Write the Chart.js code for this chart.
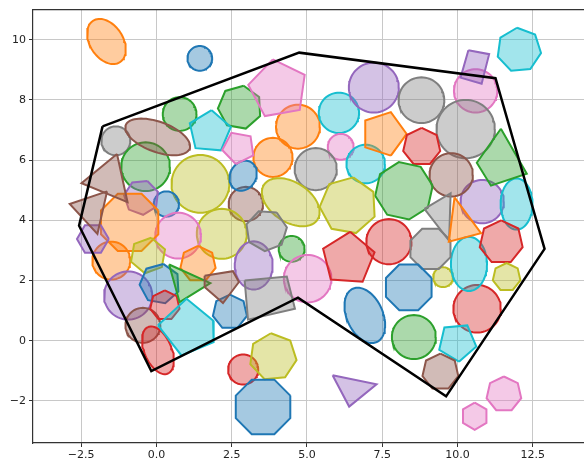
<!DOCTYPE html>
<html>
<head>
<meta charset="utf-8">
<script src="https://cdn.jsdelivr.net/npm/chart.js@4/dist/chart.umd.min.js"></script>
<style>
  html, body { margin: 0; padding: 0; background: #fff; }
</style>
</head>
<body>
<canvas id="chart" width="584" height="465"></canvas>
<script>
// tick labels
const xTicks = [-2.5, 0, 2.5, 5, 7.5, 10, 12.5];
const yTicks = [-2, 0, 2, 4, 6, 8, 10];

// tab10 colours by name
const palette = {
  blue: '31,119,180', orange: '255,127,14', green: '44,160,44', red: '214,39,40',
  purple: '148,103,189', brown: '140,86,75', pink: '227,119,194', gray: '127,127,127',
  olive: '188,189,34', cyan: '23,190,207'
};

// outline around the cluster
const hull = [[-1.79, 7.12], [4.74, 9.57], [11.26, 8.72], [12.89, 3.05], [9.62, -1.85],
  [4.70, 1.43], [-0.17, -1.01], [-2.57, 3.82]];

// circles: cx, cy, r, colour
const circles = [
  [1.44, 9.38, 0.41, 'blue'], [10.6, 8.3, 0.72, 'pink'], [2.88, -0.96, 0.5, 'red'],
  [0.77, 7.53, 0.56, 'green'], [-1.35, 6.64, 0.48, 'gray'], [4.7, 7.11, 0.73, 'orange'],
  [6.06, 7.57, 0.67, 'cyan'], [7.22, 8.41, 0.83, 'purple'], [6.12, 6.44, 0.43, 'pink'],
  [8.80, 7.99, 0.76, 'gray'], [10.27, 7.03, 0.97, 'gray'], [10.82, 4.62, 0.72, 'purple'],
  [9.79, 5.51, 0.72, 'brown'], [9.52, 2.11, 0.33, 'olive'], [7.72, 3.29, 0.75, 'red'],
  [8.55, 0.12, 0.73, 'green'], [10.65, 1.06, 0.79, 'red'], [5.29, 5.70, 0.7, 'gray'],
  [6.95, 5.87, 0.64, 'cyan'], [3.87, 6.09, 0.65, 'orange'], [2.97, 4.54, 0.57, 'brown'],
  [1.46, 5.21, 0.96, 'olive'], [2.17, 3.55, 0.83, 'olive'], [4.49, 3.05, 0.43, 'green'],
  [5.02, 2.06, 0.79, 'pink'], [-0.36, 5.78, 0.81, 'green'], [0.33, 4.54, 0.42, 'blue'],
  [0.72, 3.49, 0.76, 'pink'], [-1.5, 2.66, 0.63, 'orange'], [-0.94, 1.50, 0.8, 'purple'],
  [-0.45, 0.51, 0.58, 'brown']
];

// ellipses: cx, cy, semi-major, semi-minor, angle (deg), colour
const ellipses = [
  [-1.66, 9.94, 0.82, 0.55, -57, 'orange'], [0.04, 6.77, 1.13, 0.5, -20, 'brown'],
  [2.88, 5.48, 0.52, 0.43, 60, 'blue'], [4.46, 4.60, 1.06, 0.66, -33, 'olive'],
  [3.23, 2.50, 0.8, 0.63, 90, 'purple'], [11.96, 4.54, 0.85, 0.53, 90, 'cyan'],
  [10.38, 2.55, 0.9, 0.6, 90, 'cyan'], [6.92, 0.84, 0.97, 0.6, 114, 'blue'],
  [0.05, -0.32, 0.84, 0.45, 113, 'red']
];

// regular polygons: cx, cy, r, sides, first vertex angle (deg), colour
const regular = [
  [12.04, 9.66, 0.74, 7, 95, 'cyan'], [2.77, 7.75, 0.73, 7, 80, 'green'],
  [4.04, 8.36, 1.0, 5, 100, 'pink'], [1.77, 6.94, 0.72, 5, 85, 'cyan'],
  [7.55, 6.87, 0.76, 5, -72, 'orange'], [8.81, 6.44, 0.63, 7, 90, 'red'],
  [8.22, 4.98, 0.97, 8, 10, 'green'], [11.45, 3.27, 0.73, 7, 90, 'red'],
  [11.63, 2.11, 0.47, 7, 90, 'olive'], [9.10, 3.05, 0.72, 8, 22.5, 'gray'],
  [8.38, 1.77, 0.82, 8, 22.5, 'blue'], [9.99, -0.05, 0.65, 5, -85, 'cyan'],
  [9.43, -1.04, 0.61, 7, 90, 'brown'], [3.87, -0.54, 0.79, 7, 95, 'olive'],
  [3.54, -2.2, 0.98, 8, 22.5, 'blue'], [11.54, -1.78, 0.59, 7, 90, 'pink'],
  [10.57, -2.51, 0.45, 6, 90, 'pink'], [6.37, 4.49, 0.95, 7, 80, 'olive'],
  [3.65, 3.66, 0.69, 7, 60, 'gray'], [6.37, 2.72, 0.9, 5, 86, 'red'],
  [2.73, 6.41, 0.55, 5, -100, 'pink'], [2.44, 0.95, 0.58, 7, 90, 'blue'],
  [-0.5, 4.76, 0.58, 7, 70, 'purple'], [-0.89, 3.93, 1.03, 8, 22.5, 'orange'],
  [-2.11, 3.38, 0.53, 6, 0, 'purple'], [-0.28, 2.83, 0.6, 6, 80, 'olive'],
  [1.38, 2.55, 0.6, 7, 90, 'orange'], [0.11, 1.89, 0.67, 7, 80, 'blue'],
  [0.28, 1.17, 0.5, 7, 90, 'red']
];

// free polygons: colour, vertices
const freeShapes = [
  ['brown', [[-1.31, 6.20], [-2.49, 5.23], [-0.96, 4.60]]],
  ['brown', [[-1.64, 4.96], [-2.88, 4.54], [-1.96, 3.55]]],
  ['gray', [[8.90, 4.38], [9.77, 4.90], [9.72, 3.32]]],
  ['orange', [[9.90, 4.76], [10.78, 3.57], [9.71, 3.29]]],
  ['purple', [[5.85, -1.15], [7.31, -1.45], [6.40, -2.19]]],
  ['green', [[0.42, 2.53], [1.79, 1.91], [0.77, 1.28]]],
  ['purple', [[10.36, 9.65], [11.05, 9.52], [10.8, 8.54], [10.1, 8.74]]],
  ['gray', [[2.93, 2.00], [4.33, 2.13], [4.60, 1.06], [3.04, 0.70]]],
  ['green', [[11.44, 7.04], [12.30, 5.55], [11.11, 5.15], [10.64, 5.91]]],
  ['cyan', [[0.05, 0.51], [1.0, 1.39], [1.88, 0.67], [1.90, -0.05], [0.83, -0.49]]],
  ['brown', [[1.60, 2.16], [2.54, 2.31], [2.74, 1.95], [2.21, 1.25], [1.60, 1.78]]]
];

function closed(pts) {
  const out = pts.map(p => ({ x: p[0], y: p[1] }));
  out.push({ ...out[0] });
  return out;
}

function ellipsePts(cx, cy, a, b, ang) {
  const th = ang * Math.PI / 180, pts = [];
  for (let i = 0; i < 72; i++) {
    const t = i / 72 * 2 * Math.PI;
    pts.push([cx + a * Math.cos(t) * Math.cos(th) - b * Math.sin(t) * Math.sin(th),
              cy + a * Math.cos(t) * Math.sin(th) + b * Math.sin(t) * Math.cos(th)]);
  }
  return pts;
}

function polyPts(cx, cy, r, n, rot) {
  const pts = [];
  for (let k = 0; k < n; k++) {
    const t = (rot + 360 * k / n) * Math.PI / 180;
    pts.push([cx + r * Math.cos(t), cy + r * Math.sin(t)]);
  }
  return pts;
}

const shapes = [];
circles.forEach(c => shapes.push([c[3], ellipsePts(c[0], c[1], c[2], c[2], 0)]));
ellipses.forEach(e => shapes.push([e[5], ellipsePts(e[0], e[1], e[2], e[3], e[4])]));
regular.forEach(p => shapes.push([p[5], polyPts(p[0], p[1], p[2], p[3], p[4])]));
freeShapes.forEach(f => shapes.push([f[0], f[1]]));

const datasets = shapes.map((s, i) => ({
  data: closed(s[1]),
  showLine: true,
  fill: 'shape',
  backgroundColor: 'rgba(' + palette[s[0]] + ',0.4)',
  borderColor: 'rgb(' + palette[s[0]] + ')',
  borderWidth: 2,
  pointRadius: 0,
  tension: 0,
  order: shapes.length - i + 1
}));

datasets.push({
  data: closed(hull),
  showLine: true,
  fill: false,
  borderColor: '#000',
  borderWidth: 2.5,
  pointRadius: 0,
  tension: 0,
  order: 0
});

const spines = {
  id: 'spines',
  afterDraw(chart) {
    const { ctx, chartArea: a } = chart;
    ctx.save();
    ctx.strokeStyle = '#333';
    ctx.lineWidth = 1.2;
    ctx.beginPath();
    ctx.moveTo(a.left, a.top);
    ctx.lineTo(a.right, a.top);
    ctx.stroke();
    ctx.restore();
  }
};

const fmt = v => String(v).replace('-', '\u2212');

new Chart(document.getElementById('chart'), {
  type: 'scatter',
  data: { datasets },
  options: {
    responsive: false,
    animation: false,
    events: [],
    layout: { padding: { top: 8, right: 0, left: 0, bottom: 0 } },
    plugins: { legend: { display: false }, tooltip: { enabled: false } },
    scales: {
      x: {
        type: 'linear', min: -4.1, max: 14.2,
        afterBuildTicks: s => { s.ticks = xTicks.map(v => ({ value: v })); },
        afterFit: s => { s.height = 22; },
        grid: { color: '#c8c8c8', lineWidth: 1, tickLength: 4, tickColor: '#333' },
        border: { color: '#333', width: 1.2 },
        ticks: {
          font: { family: 'DejaVu Sans', size: 11 }, color: '#222', padding: 2,
          maxRotation: 0, callback: v => fmt(v.toFixed(1))
        }
      },
      y: {
        type: 'linear', min: -3.4, max: 11.0,
        afterBuildTicks: s => { s.ticks = yTicks.map(v => ({ value: v })); },
        afterFit: s => { s.width = 33; },
        grid: { color: '#c8c8c8', lineWidth: 1, tickLength: 4, tickColor: '#333' },
        border: { color: '#333', width: 1.2 },
        ticks: {
          font: { family: 'DejaVu Sans', size: 11 }, color: '#222', padding: 3,
          callback: v => fmt(v)
        }
      }
    }
  },
  plugins: [spines]
});
</script>
</body>
</html>
